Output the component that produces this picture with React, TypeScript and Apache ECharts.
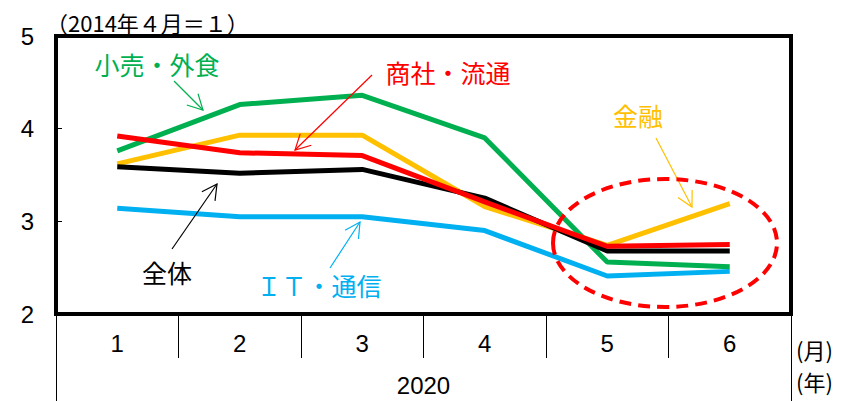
import React, { useEffect, useRef } from "react";
import * as echarts from "echarts";

const months = ["1", "2", "3", "4", "5", "6"];
const years = ["2020"];
const yTicks = { min: 2, max: 5, interval: 1 };

const zentai = [3.59, 3.52, 3.56, 3.25, 2.68, 2.68];
const shosha = [3.92, 3.74, 3.71, 3.21, 2.73, 2.75];
const kouri = [3.76, 4.26, 4.36, 3.9, 2.56, 2.51];
const kinyu = [3.62, 3.93, 3.93, 3.16, 2.74, 3.19];
const itTsushin = [3.14, 3.05, 3.05, 2.9, 2.41, 2.46];

const NUM_FONT = "'Liberation Sans Narrow', 'Liberation Sans', sans-serif";
const JP_FONT = "'Noto Sans CJK JP', sans-serif";

function arrow(x1: number, y1: number, x2: number, y2: number, color: string) {
  const ang = Math.atan2(y2 - y1, x2 - x1);
  const len = 17;
  const spread = (28 * Math.PI) / 180;
  const a1 = ang + Math.PI - spread;
  const a2 = ang + Math.PI + spread;
  return [
    {
      type: "line",
      shape: { x1, y1, x2, y2 },
      style: { stroke: color, lineWidth: 1.2 },
      z: 10,
    },
    {
      type: "polyline",
      shape: {
        points: [
          [x2 + len * Math.cos(a1), y2 + len * Math.sin(a1)],
          [x2, y2],
          [x2 + len * Math.cos(a2), y2 + len * Math.sin(a2)],
        ],
      },
      style: { stroke: color, lineWidth: 1.2, fill: null },
      z: 10,
    },
  ];
}

function label(text: string, x: number, y: number, color: string, size = 25) {
  return {
    type: "text",
    x,
    y,
    z: 10,
    style: {
      text,
      fill: color,
      font: `${size}px ${JP_FONT}`,
      align: "center",
      verticalAlign: "middle",
    },
  };
}

export default function App() {
  const ref = useRef<HTMLDivElement>(null);
  useEffect(() => {
    if (!ref.current) return;
    const chart = echarts.init(ref.current, null, { renderer: "svg" });
    const mk = (name: string, data: number[], color: string) => ({
      name,
      type: "line",
      data,
      symbol: "none",
      lineStyle: { color, width: 5 },
      itemStyle: { color },
    });
    chart.setOption({
      animation: false,
      grid: {
        left: 56,
        right: 68,
        top: 36,
        bottom: 87,
        show: true,
        borderColor: "#000",
        borderWidth: 4,
        backgroundColor: "transparent",
      },
      xAxis: [
        {
          type: "category",
          data: months,
          boundaryGap: true,
          position: "bottom",
          axisLine: { show: false },
          axisTick: { show: true, length: 44, lineStyle: { color: "#000", width: 1 } },
          axisLabel: { color: "#000", fontSize: 24, fontFamily: NUM_FONT, margin: 17 },
          splitLine: { show: false },
        },
        {
          type: "category",
          data: years,
          boundaryGap: true,
          position: "bottom",
          offset: 0,
          axisLine: { show: false },
          axisTick: { show: true, length: 90, lineStyle: { color: "#000", width: 1 } },
          axisLabel: { color: "#000", fontSize: 24, fontFamily: NUM_FONT, margin: 59 },
          splitLine: { show: false },
        },
      ],
      yAxis: {
        type: "value",
        min: yTicks.min,
        max: yTicks.max,
        interval: yTicks.interval,
        axisLine: { show: false },
        axisTick: { show: true, inside: true, length: 6, lineStyle: { color: "#000", width: 1 } },
        axisLabel: { color: "#000", fontSize: 24, fontFamily: NUM_FONT, margin: 22 },
        splitLine: { show: false },
      },
      series: [
        mk("ＩＴ・通信", itTsushin, "#00B0F0"),
        mk("小売・外食", kouri, "#00B050"),
        mk("金融", kinyu, "#FFC000"),
        mk("全体", zentai, "#000000"),
        mk("商社・流通", shosha, "#FF0000"),
      ],
      graphic: [
        {
          type: "text",
          x: 46,
          y: 22,
          style: {
            text: "（2014年４月＝１）",
            fill: "#000",
            font: `22px ${JP_FONT}`,
            align: "left",
            verticalAlign: "middle",
          },
        },
        {
          type: "text",
          x: 796,
          y: 349,
          style: { text: "(月)", fill: "#000", font: `22px ${JP_FONT}`, align: "left", verticalAlign: "middle" },
        },
        {
          type: "text",
          x: 796,
          y: 381,
          style: { text: "(年)", fill: "#000", font: `22px ${JP_FONT}`, align: "left", verticalAlign: "middle" },
        },
        label("小売・外食", 157, 64, "#00B050"),
        label("商社・流通", 448, 72, "#FF0000"),
        label("金融", 638, 115, "#FFC000"),
        label("全体", 167, 272, "#000000"),
        label("ＩＴ・通信", 319, 285, "#00B0F0"),
        ...arrow(174, 81, 203, 110, "#00B050"),
        ...arrow(372, 75, 295, 150, "#FF0000"),
        ...arrow(656, 138, 692, 207, "#FFC000"),
        ...arrow(172, 249, 217, 184, "#000000"),
        ...arrow(330, 268, 360, 222, "#00B0F0"),
        {
          type: "ellipse",
          shape: { cx: 665, cy: 243, rx: 112, ry: 64 },
          style: { stroke: "#FF0000", lineWidth: 4, lineDash: [12, 7], fill: null },
          z: 10,
        },
      ],
    });
    return () => chart.dispose();
  }, []);
  return (
    <div
      ref={ref}
      style={{ position: "fixed", left: 0, top: 0, width: 859, height: 401, background: "#fff" }}
    />
  );
}
